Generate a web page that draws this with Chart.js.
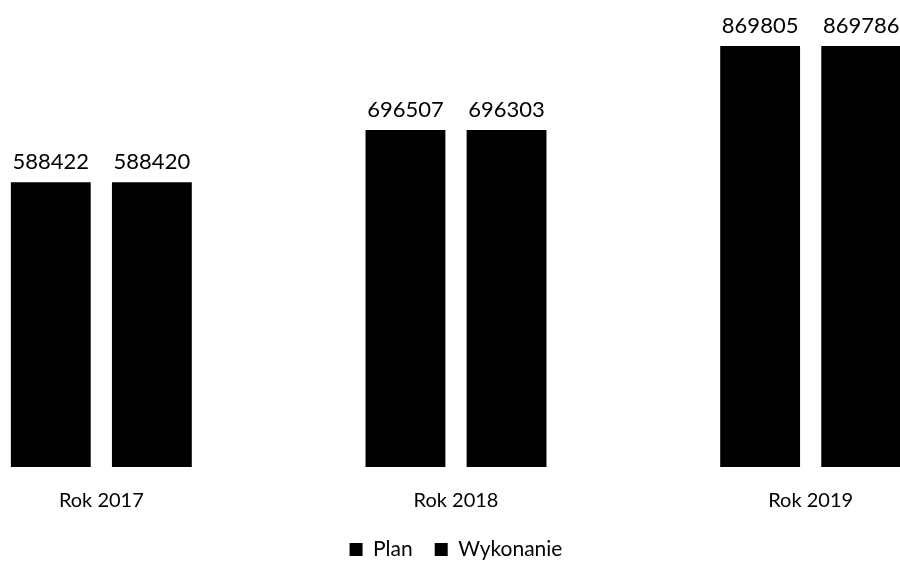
<!DOCTYPE html>
<html>
<head>
<meta charset="utf-8">
<script src="https://cdn.jsdelivr.net/npm/chart.js@4/dist/chart.umd.min.js"></script>
<style>
    html, body { margin: 0; padding: 0; background: #fff; overflow: hidden; width: 900px; height: 564px; }
    #wrap { position: absolute; left: -76px; top: -17px; width: 1064px; height: 587px; }
</style>
</head>
<body>
<div id="wrap"><canvas id="budgetChart"></canvas></div>
<script>
const years = ['Rok 2017', 'Rok 2018', 'Rok 2019'];
const planValues = [588422, 696507, 869805];
const doneValues = [588420, 696303, 869786];

// writes the number above each bar
const valueLabels = {
    id: 'valueLabels',
    afterDatasetsDraw(chart) {
        const ctx = chart.ctx;
        ctx.save();
        ctx.font = '22px Lato';
        ctx.fillStyle = '#000';
        ctx.textAlign = 'center';
        ctx.textBaseline = 'bottom';
        chart.data.datasets.forEach(function (ds, i) {
            chart.getDatasetMeta(i).data.forEach(function (bar, j) {
                ctx.fillText(String(ds.data[j]), bar.x, bar.y - 9);
            });
        });
        ctx.restore();
    }
};

const ctx = document.getElementById('budgetChart').getContext('2d');
new Chart(ctx, {
    type: 'bar',
    data: {
        labels: years,
        datasets: [
            { label: 'Plan', data: planValues, backgroundColor: '#000' },
            { label: 'Wykonanie', data: doneValues, backgroundColor: '#000' }
        ]
    },
    options: {
        responsive: true,
        maintainAspectRatio: false,
        animation: false,
        categoryPercentage: 0.57,
        barPercentage: 0.79,
        layout: { padding: 0 },
        plugins: {
            tooltip: { enabled: false },
            legend: {
                position: 'bottom',
                labels: {
                    boxWidth: 13,
                    boxHeight: 13,
                    color: '#000',
                    font: { family: 'Lato', size: 21 },
                    padding: 22
                }
            }
        },
        scales: {
            x: {
                grid: { display: false, drawTicks: false },
                border: { display: false },
                ticks: { color: '#000', font: { family: 'Lato', size: 20 }, padding: 22 },
                afterFit: function (scale) {
                    scale.height = 50;
                }
            },
            y: {
                display: false,
                min: 0,
                max: 1000000
            }
        }
    },
    plugins: [valueLabels]
});
</script>
</body>
</html>
